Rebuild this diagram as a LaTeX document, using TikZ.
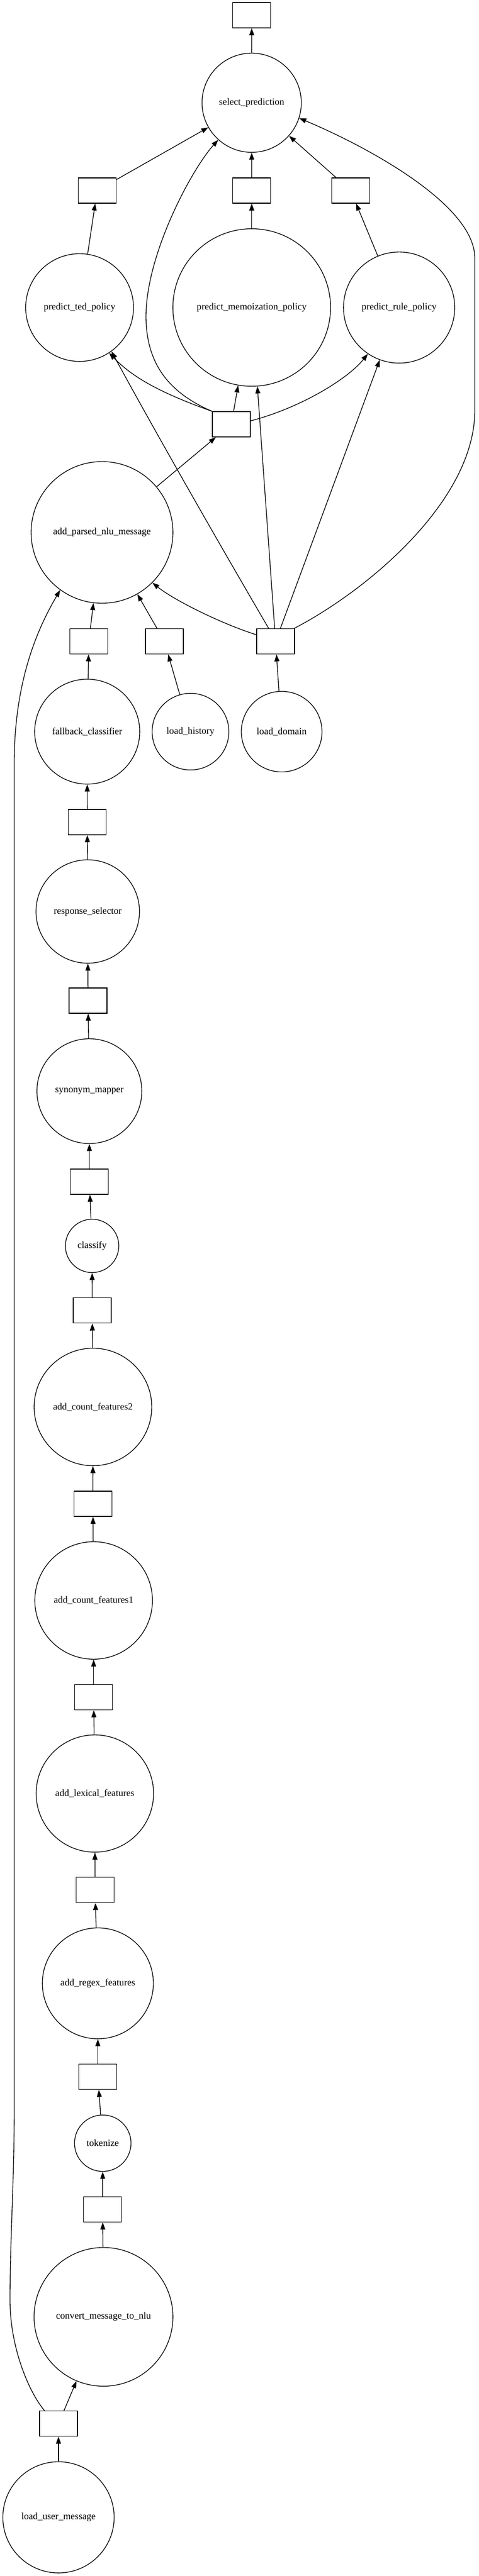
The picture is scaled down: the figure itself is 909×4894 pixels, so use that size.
\documentclass[tikz,border=0pt]{standalone}
\usepackage{fontspec}
\setmainfont{Liberation Serif}
\usetikzlibrary{arrows.meta}
\begin{document}
\begin{tikzpicture}[x=0.75pt,y=-0.75pt,
  fn/.style={circle,draw,line width=1pt,inner sep=0pt,font=\fontsize{13.6}{16}\selectfont},
  dat/.style={rectangle,draw,line width=1pt,minimum width=54pt,minimum height=36pt,inner sep=0pt},
  conn/.style={line width=1pt,-{Triangle[length=10pt,width=7pt]}}]
\fill[white] (0,0) rectangle (909,4894);
\useasboundingbox (0,0) rectangle (909,4894);

\node[dat] (out) at (477.7,29) {};
\node[fn,minimum size=141.3pt] (sel) at (477.6,195.2) {select\_prediction};
\node[dat] (tedbox) at (184.4,362) {};
\node[dat] (memobox) at (477.7,362) {};
\node[dat] (rulebox) at (665.6,362) {};
\node[fn,minimum size=153.5pt] (ted) at (151,584.3) {predict\_ted\_policy};
\node[fn,minimum size=224.4pt] (memo) at (477.7,584.2) {predict\_memoization\_policy};
\node[fn,minimum size=158.3pt] (rule) at (757.4,584.3) {predict\_rule\_policy};
\node[dat] (midbox) at (439,806) {};
\node[fn,minimum size=201.8pt] (parsed) at (193.6,1011.5) {add\_parsed\_nlu\_message};
\node[dat] (fbbox) at (168.5,1218.5) {};
\node[dat] (histbox) at (312,1218.5) {};
\node[dat] (dombox) at (523,1218.5) {};
\node[fn,minimum size=149.5pt] (fallback) at (165.5,1390) {fallback\_classifier};
\node[fn,minimum size=109.2pt] (history) at (361.5,1390) {load\_history};
\node[fn,minimum size=114.8pt] (domain) at (534.5,1390) {load\_domain};
\node[dat] (boxA) at (165.6,1562) {};
\node[fn,minimum size=147.3pt] (resp) at (166.5,1731.7) {response\_selector};
\node[dat] (boxB) at (167,1901) {};
\node[fn,minimum size=149.3pt] (syn) at (169.6,2073) {synonym\_mapper};
\node[dat] (boxC) at (169.6,2245) {};
\node[fn,minimum size=76pt] (cls) at (174.8,2367) {classify};
\node[dat] (boxD) at (175,2489.7) {};
\node[fn,minimum size=167.4pt] (acf2) at (176.4,2673) {add\_count\_features2};
\node[dat] (boxE) at (176.3,2857) {};
\node[fn,minimum size=167.4pt] (acf1) at (177.7,3040.6) {add\_count\_features1};
\node[dat] (boxF) at (177.7,3224.5) {};
\node[fn,minimum size=167.1pt] (lex) at (180,3407.4) {add\_lexical\_features};
\node[dat] (boxG) at (180.3,3590.6) {};
\node[fn,minimum size=158pt] (regex) at (185.7,3768) {add\_regex\_features};
\node[dat] (boxH) at (185.7,3945.7) {};
\node[fn,minimum size=80.4pt] (tok) at (195,4071.7) {tokenize};
\node[dat] (boxI) at (194.8,4197.5) {};
\node[fn,minimum size=197.6pt] (conv) at (196.4,4401.6) {convert\_message\_to\_nlu};
\node[dat] (boxJ) at (111,4604.5) {};
\node[fn,minimum size=158.4pt] (user) at (111,4782.5) {load\_user\_message};

% straight connectors
\draw[conn] (sel) -- (out);
\draw[conn] (tedbox) -- (sel);
\draw[conn] (memobox) -- (sel);
\draw[conn] (rulebox) -- (sel);
\draw[conn] (ted) -- (tedbox);
\draw[conn] (memo) -- (memobox);
\draw[conn] (rule) -- (rulebox);
\draw[conn] (midbox) -- (memo);
\draw[conn] (dombox) -- (memo);
\draw[conn] (dombox) -- (rule);
\draw[conn] (parsed) -- (midbox);
\draw[conn] (fbbox) -- (parsed);
\draw[conn] (histbox) -- (parsed);
\draw[conn] (fallback) -- (fbbox);
\draw[conn] (history) -- (histbox);
\draw[conn] (domain) -- (dombox);
\draw[conn] (boxA) -- (fallback);
\draw[conn] (resp) -- (boxA);
\draw[conn] (boxB) -- (resp);
\draw[conn] (syn) -- (boxB);
\draw[conn] (boxC) -- (syn);
\draw[conn] (cls) -- (boxC);
\draw[conn] (boxD) -- (cls);
\draw[conn] (acf2) -- (boxD);
\draw[conn] (boxE) -- (acf2);
\draw[conn] (acf1) -- (boxE);
\draw[conn] (boxF) -- (acf1);
\draw[conn] (lex) -- (boxF);
\draw[conn] (boxG) -- (lex);
\draw[conn] (regex) -- (boxG);
\draw[conn] (boxH) -- (regex);
\draw[conn] (tok) -- (boxH);
\draw[conn] (boxI) -- (tok);
\draw[conn] (conv) -- (boxI);
\draw[conn] (boxJ) -- (conv);
\draw[conn] (user) -- (boxJ);

% curved connectors
\draw[conn] (midbox.north west) .. controls (300,745) and (250,715) .. (ted.-57);
\draw[conn] (midbox.north west) .. controls (330,750) and (277,700) .. (277,600)
  .. controls (278,480) and (365,320) .. (sel.228);
\draw[conn] (midbox.10) .. controls (570,775) and (660,720) .. (rule.236);
\draw[conn] (dombox.118) .. controls (420,1040) and (300,830) .. (ted.-54);
\draw[conn] (dombox.161) .. controls (420,1185) and (330,1140) .. (parsed.-45);
\draw[conn] (dombox.35) .. controls (700,1120) and (901,950) .. (901,780) -- (901,490)
  .. controls (901,390) and (700,280) .. (sel.-18.7);
\draw[conn] (boxJ.137) .. controls (55,4545) and (19,4460) .. (19,4370)
  .. controls (19,4250) and (27,4150) .. (27,4000) -- (27,1450)
  .. controls (27,1280) and (80,1180) .. (parsed.234);
\end{tikzpicture}
\end{document}
